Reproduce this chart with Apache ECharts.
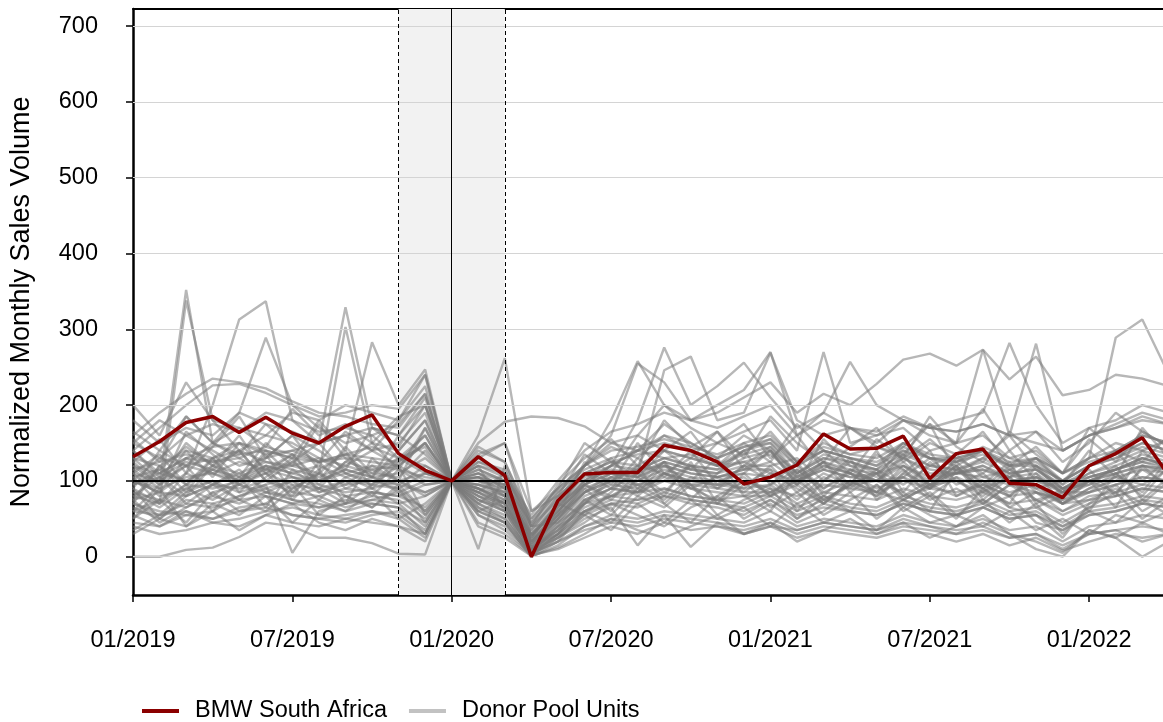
<!DOCTYPE html>
<html>
<head>
<meta charset="utf-8">
<script src="https://cdn.jsdelivr.net/npm/echarts@6/dist/echarts.min.js"></script>
<style>
  html, body { margin: 0; padding: 0; background: #ffffff; }
  #chart { width: 1163px; height: 722px; }
</style>
</head>
<body>
<div id="chart"></div>
<script>
// Month index 0 = 01/2019; one value per month through 04/2022 (index 39).
const tickLabels = ['01/2019', '07/2019', '01/2020', '07/2020', '01/2021', '07/2021', '01/2022'];
const xTicks = [0, 6, 12, 18, 24, 30, 36];
const yTicks = [0, 100, 200, 300, 400, 500, 600, 700];

// Pre-period shading: 11/2019 .. 03/2020, normalisation month 01/2020.
const shadeStartMonth = 10;
const baseMonth = 12;
const shadeEndMonth = 14;

const bmwSouthAfrica = [132,152,177,185,164,184,163,150,172,187,136,114, 100, 132,107,0,74, 109,111,111,147,140,125,96, 105,121,162,142,143,159,103,136,142,97,95,78, 120,136,157,107];

// Donor pool units (2019 | 01/2020 | 02-05/2020 | 06-12/2020 | 2021 | 01-04/2022)
const donor01 = [120,95,352,150,130,110,125,100,115,105,95,85, 100, 60,45,5,40, 75,90,85,110,95,100,90, 120,85,110,95,100,105,90,115,100,85,95,70, 90,100,120,110];
const donor02 = [80,70,338,180,140,100,90,110,95,120,100,170, 100, 90,70,10,30, 60,80,95,100,120,105,110, 140,95,120,110,100,125,95,110,115,105,120,90, 105,115,130,120];
const donor03 = [100,85,110,200,313,337,180,150,160,140,120,150, 100, 110,90,20,60, 95,120,140,175,150,130,160, 140,110,135,125,115,150,130,120,140,115,130,100, 120,140,160,150];
const donor04 = [90,140,120,150,190,289,200,170,150,160,130,110, 100, 80,70,15,50, 85,100,120,110,100,95,100, 90,80,95,90,85,100,90,85,95,80,85,75, 85,95,105,100];
const donor05 = [150,130,160,140,120,130,140,150,329,170,160,200, 100, 120,110,40,80, 110,125,135,140,130,120,140, 155,120,140,130,120,150,130,130,140,120,120,100, 120,130,150,140];
const donor06 = [110,100,120,130,140,125,120,110,303,150,140,180, 100, 100,80,25,70, 95,110,105,125,115,110,130, 140,100,120,110,100,130,110,110,120,100,105,85, 100,115,130,120];
const donor07 = [130,120,140,130,150,140,130,180,140,283,200,247, 100, 90,70,10,50, 85,105,115,130,120,115,140, 150,110,130,125,110,140,120,115,130,110,115,90, 110,125,140,130];
const donor08 = [160,190,215,235,230,222,205,190,185,175,170,215, 100, 150,178,185,183, 172,150,140,130,135,120,125, 110,100,115,105,110,120,100,110,105,95,100,90, 100,110,120,115];
const donor09 = [140,170,200,226,228,216,200,185,190,200,195,240, 100, 130,150,60,90, 120,160,255,230,180,200,220, 270,160,190,170,160,180,170,165,175,160,150,140, 160,175,190,180];
const donor10 = [0,0,9,12,26,45,40,25,25,18,4,3, 100, 80,60,10,40, 60,70,65,80,75,70,60, 75,55,65,60,55,70,60,55,65,50,55,40, 55,60,70,65];
const donor11 = [70,60,55,60,80,95,5,60,70,80,75,50, 100, 70,50,5,20, 40,55,50,60,55,50,45, 60,40,50,45,40,55,45,40,50,35,40,20, 40,45,55,50];
const donor12 = [95,110,100,115,105,120,110,100,115,105,110,130, 100, 160,262,60,80, 110,100,115,120,110,105,115, 125,100,115,105,100,120,105,110,115,100,105,85, 100,115,125,115];
const donor13 = [60,55,70,65,75,80,70,65,70,75,70,40, 100, 10,120,40,45, 70,80,85,90,80,75,80, 95,70,85,80,75,90,80,75,85,70,75,55, 70,80,90,85];
const donor14 = [120,110,130,125,135,140,130,125,135,130,125,150, 100, 105,95,45,85, 120,150,160,200,180,190,210, 230,190,215,200,228,260,268,252,273,234,264,213, 220,240,235,225];
const donor15 = [100,90,105,110,100,115,105,100,110,100,95,120, 100, 95,85,20,60, 95,120,140,160,150,130,145, 150,120,140,130,120,140,130,125,140,120,130,110, 130,289,313,240];
const donor16 = [55,40,60,50,65,70,55,50,45,55,60,35, 100, 85,65,8,25, 50,65,15,55,13,45,30, 40,35,45,40,35,50,40,30,45,30,10,0, 35,25,0,20];
const donor17 = [85,75,95,90,100,110,95,90,100,95,90,110, 100, 90,80,30,70, 120,180,258,200,170,150,165, 180,140,270,150,160,170,140,150,160,130,140,110, 130,140,160,150];
const donor18 = [105,115,100,120,110,125,115,105,120,110,105,140, 100, 110,90,25,65, 100,120,180,276,200,225,256, 210,170,190,257,200,180,170,180,190,282,200,150, 170,180,200,190];
const donor19 = [75,85,80,95,90,100,85,80,90,85,80,95, 100, 75,60,3,30, 70,90,110,246,264,180,190, 269,180,160,170,150,180,160,150,273,160,281,140, 160,170,180,175];
const donor20 = [90,50,80,95,110,90,100,85,95,100,90,60, 100, 85,70,12,45, 80,95,90,105,95,90,85, 85,100,75,95,110,80,90,105,70,95,85,60, 80,85,95,90];
const donor21 = [130,100,150,120,140,160,150,130,120,140,150,190, 100, 115,100,35,75, 110,125,120,140,130,120,135, 145,110,130,120,115,135,120,115,125,110,115,90, 110,120,135,125];
const donor22 = [65,50,75,70,80,90,75,70,60,70,65,30, 100, 70,55,2,25, 55,70,75,80,70,65,55, 75,50,70,60,55,70,60,55,65,50,55,35, 55,60,70,65];
const donor23 = [110,80,90,100,85,95,105,95,85,90,100,80, 100, 90,75,18,55, 85,100,95,110,100,95,90, 95,115,85,100,80,110,95,120,90,105,75,85, 85,95,105,100];
const donor24 = [45,40,55,50,60,65,55,50,55,60,50,25, 100, 60,45,0,15, 40,50,45,55,50,45,40, 50,35,45,40,35,45,40,35,40,25,30,10, 30,35,40,35];
const donor25 = [180,150,170,160,190,175,165,150,160,170,160,210, 100, 120,105,50,90, 120,140,145,155,145,135,150, 160,125,145,135,130,150,135,130,140,125,130,110, 125,135,150,140];
const donor26 = [100,130,120,110,125,115,120,130,110,120,115,105, 100, 95,85,15,55, 90,105,100,115,105,100,110, 105,120,90,115,100,85,125,95,110,80,105,90, 95,105,115,110];
const donor27 = [75,45,65,80,70,85,75,65,75,70,65,45, 100, 75,60,5,30, 60,75,70,85,75,70,65, 80,60,75,65,60,75,65,60,70,55,60,40, 60,65,75,70];
const donor28 = [140,110,130,145,150,135,140,125,135,145,130,160, 100, 105,95,30,70, 105,120,115,130,120,115,125, 135,105,125,115,110,130,115,110,120,105,110,85, 105,115,130,120];
const donor29 = [95,105,125,115,100,120,110,120,105,115,120,100, 100, 100,95,22,60, 95,110,105,120,110,105,115, 115,95,125,110,90,105,130,100,85,115,95,70, 100,110,120,115];
const donor30 = [60,75,65,85,95,80,70,80,65,75,85,55, 100, 80,65,8,35, 65,80,75,90,80,75,70, 85,65,80,70,65,80,70,65,75,60,65,45, 65,70,80,75];
const donor31 = [150,180,160,175,165,190,180,165,170,160,175,215, 100, 140,125,45,85, 115,130,140,150,140,130,145, 155,125,140,130,125,145,130,125,135,120,125,100, 120,130,145,135];
const donor32 = [35,55,60,45,50,60,65,55,50,60,55,30, 100, 55,40,4,20, 35,45,40,50,45,40,35, 45,30,40,35,30,40,35,30,35,25,30,15, 30,35,20,30];
const donor33 = [115,125,135,125,130,145,135,125,130,125,120,150, 100, 110,100,28,65, 100,115,110,125,115,110,120, 120,130,100,125,115,95,120,135,105,115,90,100, 105,115,125,120];
const donor34 = [85,65,90,75,95,85,80,90,80,85,80,65, 100, 85,70,10,40, 75,90,85,100,90,85,80, 80,95,70,100,85,75,95,80,100,65,85,70, 75,80,90,85];
const donor35 = [200,160,230,180,170,160,190,180,200,190,180,240, 100, 125,110,55,100, 140,165,175,190,180,170,185, 200,160,180,170,165,185,170,165,175,160,165,140, 160,170,185,175];
const donor36 = [50,90,40,70,55,80,45,75,60,85,50,70, 100, 65,50,6,28, 55,35,70,45,75,50,65, 40,70,45,60,35,65,45,55,40,60,35,50, 30,55,45,60];
const donor37 = [125,95,140,105,150,115,135,100,145,110,130,120, 100, 105,80,20,55, 95,75,110,85,120,90,105, 80,115,90,110,85,120,95,100,80,110,90,70, 85,105,95,115];
const donor38 = [70,120,85,130,95,110,80,125,90,105,85,100, 100, 90,75,12,35, 70,100,80,110,90,75,100, 85,105,70,95,80,105,75,90,70,95,75,60, 75,90,70,100];
const donor39 = [165,140,185,150,170,145,195,160,175,150,185,200, 100, 125,115,40,75, 120,145,130,160,140,150,135, 165,125,150,135,145,130,155,125,145,130,120,100, 130,150,140,155];
const donor40 = [40,30,35,45,40,55,45,40,50,45,40,30, 100, 45,30,2,10, 25,40,30,45,35,40,30, 40,25,35,30,25,35,30,20,30,15,25,8, 20,30,25,30];
const donor41 = [105,70,95,130,85,120,75,110,140,90,125,160, 100, 70,95,15,50, 90,60,105,80,125,70,95, 115,60,100,130,75,110,140,80,95,125,70,90, 60,110,85,130];
const donor42 = [60,95,120,80,105,65,115,90,70,130,100,85, 100, 120,60,25,70, 55,85,120,70,100,130,80, 60,110,75,95,140,85,60,115,90,70,120,80, 100,65,120,90];
const donor43 = [140,105,80,120,160,110,135,95,125,150,115,170, 100, 85,110,30,60, 100,130,90,125,75,110,140, 95,125,80,115,100,135,90,120,75,105,130,95, 115,80,140,110];
const donor44 = [75,120,95,60,100,135,85,115,70,95,120,55, 100, 65,45,0,20, 60,45,80,65,95,55,75, 90,50,80,60,95,65,85,55,75,45,70,30, 65,85,50,75];
const donor45 = [115,90,165,135,105,150,120,175,130,105,160,135, 100, 115,100,20,55, 125,95,150,110,130,165,115, 140,95,155,120,105,145,175,110,130,160,115,95, 140,105,170,130];
const donor46 = [90,70,110,95,75,105,130,85,100,80,115,95, 100, 95,80,10,35, 70,105,85,120,95,70,110, 80,100,125,85,110,75,95,120,85,105,65,80, 95,120,75,105];
const donor47 = [50,75,45,85,60,70,95,55,80,65,90,45, 100, 55,35,3,25, 45,70,55,40,65,80,50, 70,45,60,85,50,75,55,40,65,80,45,35, 60,45,75,55];
const donor48 = [125,155,110,145,185,130,160,140,115,170,145,200, 100, 130,110,35,80, 135,110,160,140,115,150,175, 130,160,115,145,170,125,150,135,165,120,145,110, 155,125,165,145];
const donor49 = [100,85,130,110,95,140,105,90,125,115,100,110, 100, 75,65,8,45, 85,110,95,75,105,90,120, 100,75,105,90,115,80,100,125,95,80,110,70, 90,110,80,120];
const donor50 = [80,105,70,95,115,85,100,75,105,90,70,80, 100, 105,85,18,50, 95,80,100,125,90,105,85, 110,90,70,100,85,115,80,105,90,120,85,75, 100,85,115,95];
const donor51 = [155,125,185,150,135,175,145,125,165,140,180,225, 100, 145,125,50,90, 150,125,105,140,165,120,150, 125,175,140,110,155,130,185,145,125,165,135,110, 170,140,125,160];
const donor52 = [70,55,85,100,75,60,90,110,80,65,95,60, 100, 60,75,12,30, 75,55,90,70,45,80,100, 65,85,55,75,95,60,80,50,90,65,55,25, 70,95,60,80];
const donor53 = [110,135,95,115,140,100,125,150,110,95,130,145, 100, 100,90,28,65, 110,90,130,105,140,95,120, 145,105,125,95,135,115,90,130,110,140,100,85, 120,140,100,130];
const donor54 = [30,50,40,60,35,55,70,45,35,50,40,20, 100, 40,25,1,12, 30,50,35,25,40,55,30, 45,20,35,50,30,45,25,40,55,30,20,5, 35,25,45,30];
const donor55 = [95,115,145,120,100,130,160,115,135,105,140,180, 100, 135,150,40,95, 130,155,120,180,145,165,130, 185,150,125,170,145,135,175,150,195,140,165,125, 150,190,165,145];

const donorPool = [donor01, donor02, donor03, donor04, donor05, donor06, donor07, donor08, donor09, donor10,
  donor11, donor12, donor13, donor14, donor15, donor16, donor17, donor18, donor19, donor20,
  donor21, donor22, donor23, donor24, donor25, donor26, donor27, donor28, donor29, donor30,
  donor31, donor32, donor33, donor34, donor35, donor36, donor37, donor38, donor39, donor40,
  donor41, donor42, donor43, donor44, donor45, donor46, donor47, donor48, donor49, donor50,
  donor51, donor52, donor53, donor54, donor55];

const FONT = '"Liberation Sans", Arial, Helvetica, sans-serif';
const toPoints = values => values.map((v, i) => [i, v]);

// Visible time window: 01/2019 to just before 04/2022
const xMin = 0;
const xMax = 38.78;

const chart = echarts.init(document.getElementById('chart'), null, { renderer: 'canvas' });

const series = [];

// Background: shaded window, horizontal gridlines, event markers
series.push({
  type: 'line',
  name: 'background',
  data: [],
  z: 1,
  silent: true,
  markArea: {
    silent: true,
    itemStyle: { color: '#f2f2f2' },
    data: [[{ xAxis: shadeStartMonth }, { xAxis: shadeEndMonth }]]
  },
  markLine: {
    silent: true,
    symbol: ['none', 'none'],
    animation: false,
    label: { show: false },
    emphasis: { disabled: true },
    data: [
      ...yTicks.map(v => ({ yAxis: v, lineStyle: { color: '#d4d4d4', width: 1.2, type: 'solid' } })),
      { xAxis: shadeStartMonth, lineStyle: { color: '#000', width: 1, type: [4, 3] } },
      { xAxis: shadeEndMonth, lineStyle: { color: '#000', width: 1, type: [4, 3] } },
      { xAxis: baseMonth, lineStyle: { color: '#000', width: 1, type: 'solid' } }
    ]
  }
});

donorPool.forEach(values => {
  series.push({
    type: 'line',
    name: 'Donor Pool Units',
    data: toPoints(values),
    symbol: 'none',
    showSymbol: false,
    silent: true,
    z: 3,
    color: '#c2c2c2',
    lineStyle: { color: '#7a7a7a', opacity: 0.54, width: 2.4 },
    emphasis: { disabled: true }
  });
});

// Reference level at 100
series.push({
  type: 'line',
  name: 'reference',
  data: [],
  z: 4,
  silent: true,
  markLine: {
    silent: true,
    symbol: ['none', 'none'],
    animation: false,
    label: { show: false },
    emphasis: { disabled: true },
    data: [{ yAxis: 100, lineStyle: { color: '#000', width: 2, type: 'solid' } }]
  }
});

series.push({
  type: 'line',
  name: 'BMW South Africa',
  data: toPoints(bmwSouthAfrica),
  symbol: 'none',
  showSymbol: false,
  silent: true,
  z: 5,
  color: '#8b0000',
  lineStyle: { color: '#8b0000', width: 3.5 },
  emphasis: { disabled: true }
});

chart.setOption({
  animation: false,
  backgroundColor: '#ffffff',
  textStyle: { fontFamily: FONT },
  grid: { left: 133, right: 0, top: 9, bottom: 127, containLabel: false },
  legend: {
    left: 137,
    top: 694,
    icon: 'rect',
    itemWidth: 37,
    itemHeight: 4,
    itemGap: 22,
    selectedMode: false,
    textStyle: { fontSize: 23.5, color: '#000', fontFamily: FONT, padding: [0, 0, 0, 11] },
    data: [
      { name: 'BMW South Africa', itemStyle: { color: '#8b0000' } },
      { name: 'Donor Pool Units', itemStyle: { color: '#c2c2c2' } }
    ]
  },
  xAxis: [
    {
      type: 'value',
      position: 'bottom',
      min: xMin,
      max: xMax,
      interval: 6,
      axisLine: { show: true, onZero: false, lineStyle: { color: '#000', width: 2.5 } },
      axisTick: { show: true, length: 7, customValues: xTicks, lineStyle: { color: '#000', width: 1.5 } },
      axisLabel: {
        margin: 34,
        fontSize: 23.5,
        color: '#000',
        fontFamily: FONT,
        customValues: xTicks,
        formatter: v => tickLabels[xTicks.indexOf(v)] || ''
      },
      splitLine: { show: false }
    },
    {
      type: 'value',
      position: 'top',
      min: xMin,
      max: xMax,
      axisLine: { show: true, onZero: false, lineStyle: { color: '#000', width: 2 } },
      axisTick: { show: false },
      axisLabel: { show: false },
      splitLine: { show: false }
    }
  ],
  yAxis: {
    type: 'value',
    min: -50.5,
    max: 722.5,
    name: 'Normalized Monthly Sales Volume',
    nameLocation: 'middle',
    nameGap: 98,
    nameTextStyle: { fontSize: 27, color: '#000', fontFamily: FONT },
    axisLine: { show: true, onZero: false, lineStyle: { color: '#000', width: 2.5 } },
    axisTick: { show: true, length: 7, customValues: yTicks, lineStyle: { color: '#000', width: 1.5 } },
    axisLabel: { margin: 35, fontSize: 23.5, color: '#000', fontFamily: FONT, customValues: yTicks },
    splitLine: { show: false }
  },
  series: series
});
</script>
</body>
</html>
